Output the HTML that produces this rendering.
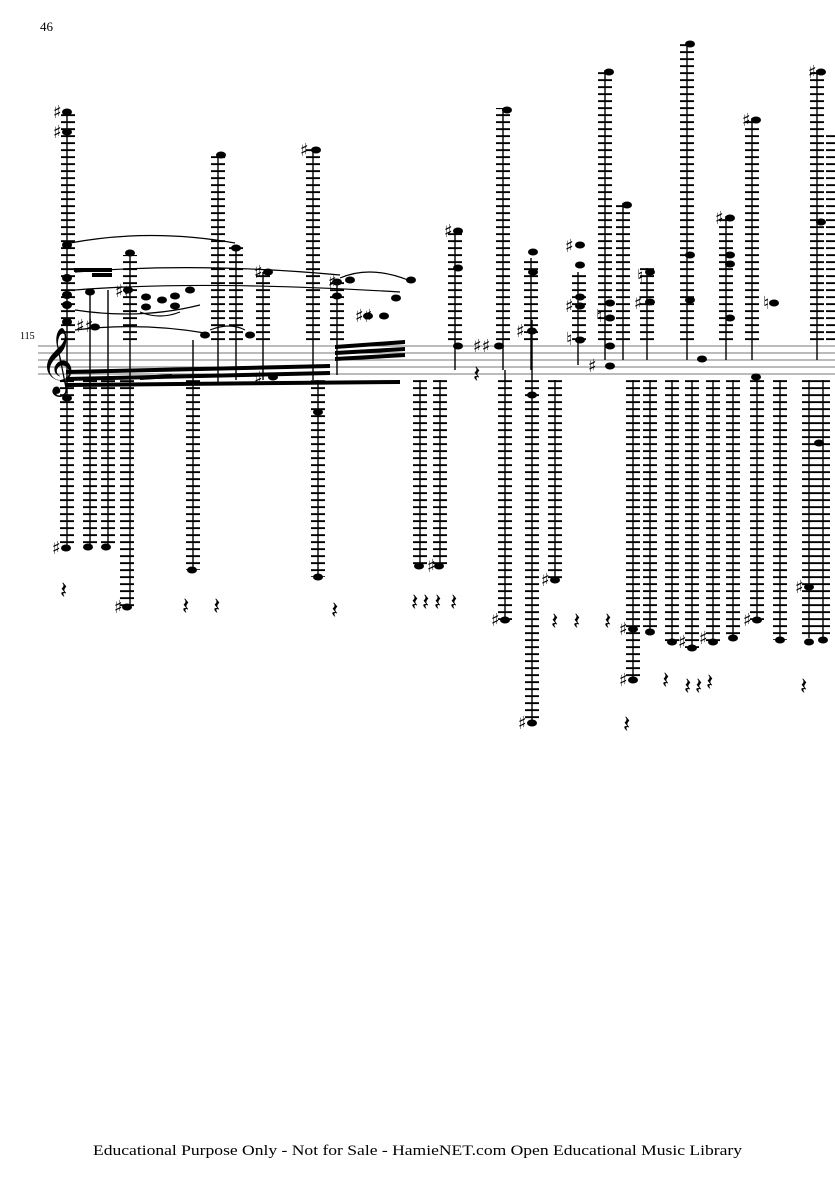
<!DOCTYPE html>
<html><head><meta charset="utf-8"><style>
html,body{margin:0;padding:0;background:#fff;}
body{width:835px;height:1181px;overflow:hidden;position:relative;font-family:"Liberation Serif",serif;}
</style></head><body>
<svg width="835" height="1181" viewBox="0 0 835 1181" xmlns="http://www.w3.org/2000/svg">
<defs>
<pattern id="L" patternUnits="userSpaceOnUse" x="0" y="0" width="20" height="7">
<rect x="0" y="2.2" width="20" height="1.9" fill="#000"/>
</pattern>
</defs>
<text x="40" y="31" font-size="13" font-family="Liberation Serif">46</text>
<text x="20" y="339" font-size="10" font-family="Liberation Serif">115</text>
<g stroke="#777" stroke-width="1">
<line x1="38" y1="346" x2="835" y2="346"/><line x1="38" y1="353" x2="835" y2="353"/>
<line x1="38" y1="360" x2="835" y2="360"/><line x1="38" y1="367" x2="835" y2="367"/>
<line x1="38" y1="374" x2="835" y2="374"/>
</g>
<text x="40" y="380" font-size="58" font-family="DejaVu Sans">𝄞</text>
<g fill="url(#L)">
<rect x="61" y="112" width="14" height="230"/>
<rect x="123" y="255" width="14" height="87"/>
<rect x="211" y="153" width="14" height="189"/>
<rect x="229" y="245" width="14" height="97"/>
<rect x="256" y="272" width="14" height="70"/>
<rect x="306" y="148" width="14" height="194"/>
<rect x="330" y="282" width="14" height="60"/>
<rect x="448" y="230" width="14" height="112"/>
<rect x="496" y="108" width="14" height="234"/>
<rect x="524" y="258" width="14" height="84"/>
<rect x="572" y="272" width="14" height="70"/>
<rect x="598" y="70" width="14" height="272"/>
<rect x="616" y="203" width="14" height="139"/>
<rect x="640" y="268" width="14" height="74"/>
<rect x="680" y="42" width="14" height="300"/>
<rect x="719" y="216" width="14" height="126"/>
<rect x="745" y="118" width="14" height="224"/>
<rect x="810" y="70" width="14" height="272"/>
<rect x="826" y="135" width="14" height="207"/>
<rect x="60" y="378" width="14" height="170"/>
<rect x="83" y="378" width="14" height="169"/>
<rect x="101" y="378" width="14" height="169"/>
<rect x="120" y="378" width="14" height="229"/>
<rect x="186" y="378" width="14" height="192"/>
<rect x="311" y="378" width="14" height="199"/>
<rect x="413" y="378" width="14" height="188"/>
<rect x="433" y="378" width="14" height="188"/>
<rect x="498" y="378" width="14" height="242"/>
<rect x="525" y="378" width="14" height="345"/>
<rect x="548" y="378" width="14" height="202"/>
<rect x="626" y="378" width="14" height="302"/>
<rect x="643" y="378" width="14" height="254"/>
<rect x="665" y="378" width="14" height="264"/>
<rect x="685" y="378" width="14" height="270"/>
<rect x="706" y="378" width="14" height="264"/>
<rect x="726" y="378" width="14" height="260"/>
<rect x="750" y="378" width="14" height="242"/>
<rect x="773" y="378" width="14" height="262"/>
<rect x="802" y="378" width="14" height="260"/>
<rect x="816" y="378" width="14" height="260"/>
</g>
<g stroke="#000" stroke-width="1.4">
<line x1="67" y1="112" x2="67" y2="548"/><line x1="90" y1="290" x2="90" y2="547"/>
<line x1="108" y1="290" x2="108" y2="547"/><line x1="130" y1="255" x2="130" y2="607"/>
<line x1="193" y1="340" x2="193" y2="570"/><line x1="218" y1="153" x2="218" y2="385"/>
<line x1="236" y1="245" x2="236" y2="380"/><line x1="263" y1="272" x2="263" y2="380"/>
<line x1="313" y1="148" x2="313" y2="380"/><line x1="318" y1="380" x2="318" y2="577"/>
<line x1="337" y1="282" x2="337" y2="375"/>
<line x1="420" y1="380" x2="420" y2="566"/><line x1="440" y1="380" x2="440" y2="566"/>
<line x1="455" y1="230" x2="455" y2="370"/><line x1="503" y1="108" x2="503" y2="370"/>
<line x1="505" y1="370" x2="505" y2="620"/><line x1="531" y1="258" x2="531" y2="370"/>
<line x1="532" y1="320" x2="532" y2="723"/><line x1="555" y1="380" x2="555" y2="580"/>
<line x1="578" y1="272" x2="578" y2="365"/><line x1="605" y1="70" x2="605" y2="360"/>
<line x1="623" y1="203" x2="623" y2="360"/><line x1="633" y1="380" x2="633" y2="680"/>
<line x1="647" y1="268" x2="647" y2="360"/><line x1="650" y1="380" x2="650" y2="632"/>
<line x1="672" y1="380" x2="672" y2="642"/><line x1="687" y1="42" x2="687" y2="360"/>
<line x1="692" y1="380" x2="692" y2="648"/><line x1="713" y1="380" x2="713" y2="642"/>
<line x1="726" y1="216" x2="726" y2="360"/><line x1="733" y1="380" x2="733" y2="638"/>
<line x1="752" y1="118" x2="752" y2="360"/><line x1="757" y1="380" x2="757" y2="620"/>
<line x1="780" y1="380" x2="780" y2="640"/><line x1="809" y1="380" x2="809" y2="638"/>
<line x1="817" y1="70" x2="817" y2="360"/><line x1="823" y1="380" x2="823" y2="638"/>
</g>
<g fill="#000">
<polygon points="66,370 330,364 330,368 66,374"/>
<polygon points="66,377 330,371 330,375 66,381"/>
<polygon points="66,383 400,380 400,384 66,387"/>
<polygon points="140,376 172,374 172,378 140,380"/>
<polygon points="335,345 405,340 405,344 335,349"/>
<polygon points="335,351 405,347 405,351 335,355"/>
<polygon points="335,357 405,353 405,357 335,361"/>
<polygon points="74,268 112,268 112,272 74,272"/>
<polygon points="92,273 112,273 112,277 92,277"/>
</g>
<g fill="#000">
<ellipse cx="67" cy="112" rx="5" ry="3.5"/><ellipse cx="67" cy="132" rx="5" ry="3.5"/>
<ellipse cx="67" cy="245" rx="5" ry="4"/><ellipse cx="67" cy="278" rx="5" ry="4"/>
<ellipse cx="67" cy="295" rx="5" ry="4"/><ellipse cx="67" cy="305" rx="5" ry="4"/>
<ellipse cx="67" cy="322" rx="5" ry="4"/><ellipse cx="67" cy="398" rx="5" ry="3.5"/>
<ellipse cx="90" cy="292" rx="5" ry="3.5"/><ellipse cx="95" cy="327" rx="5" ry="3.5"/>
<ellipse cx="130" cy="253" rx="5" ry="3.5"/><ellipse cx="128" cy="290" rx="5" ry="3.5"/>
<ellipse cx="146" cy="297" rx="5" ry="3.5"/><ellipse cx="146" cy="307" rx="5" ry="3.5"/>
<ellipse cx="162" cy="300" rx="5" ry="3.5"/><ellipse cx="175" cy="296" rx="5" ry="3.5"/>
<ellipse cx="175" cy="306" rx="5" ry="3.5"/><ellipse cx="190" cy="290" rx="5" ry="3.5"/>
<ellipse cx="205" cy="335" rx="5" ry="3.5"/><ellipse cx="221" cy="155" rx="5" ry="3.5"/>
<ellipse cx="236" cy="248" rx="5" ry="3.5"/><ellipse cx="250" cy="335" rx="5" ry="3.5"/>
<ellipse cx="268" cy="272" rx="5" ry="3.5"/><ellipse cx="273" cy="377" rx="5" ry="3.5"/>
<ellipse cx="316" cy="150" rx="5" ry="3.5"/><ellipse cx="337" cy="282" rx="5" ry="3.5"/>
<ellipse cx="337" cy="296" rx="5" ry="3.5"/><ellipse cx="350" cy="280" rx="5" ry="3.5"/>
<ellipse cx="368" cy="316" rx="5" ry="3.5"/><ellipse cx="384" cy="316" rx="5" ry="3.5"/>
<ellipse cx="396" cy="298" rx="5" ry="3.5"/><ellipse cx="411" cy="280" rx="5" ry="3.5"/>
<ellipse cx="318" cy="412" rx="5" ry="3.5"/>
<ellipse cx="458" cy="231" rx="5" ry="3.5"/><ellipse cx="458" cy="268" rx="5" ry="3.5"/>
<ellipse cx="458" cy="346" rx="5" ry="3.5"/><ellipse cx="499" cy="346" rx="5" ry="3.5"/>
<ellipse cx="507" cy="110" rx="5" ry="3.5"/><ellipse cx="533" cy="252" rx="5" ry="3.5"/>
<ellipse cx="533" cy="272" rx="5" ry="3.5"/><ellipse cx="532" cy="331" rx="5" ry="3.5"/>
<ellipse cx="532" cy="395" rx="5" ry="3.5"/>
<ellipse cx="580" cy="245" rx="5" ry="3.5"/><ellipse cx="580" cy="265" rx="5" ry="3.5"/>
<ellipse cx="580" cy="297" rx="5" ry="3.5"/><ellipse cx="580" cy="306" rx="5" ry="3.5"/>
<ellipse cx="580" cy="340" rx="5" ry="3.5"/>
<ellipse cx="609" cy="72" rx="5" ry="3.5"/><ellipse cx="610" cy="303" rx="5" ry="3.5"/>
<ellipse cx="610" cy="318" rx="5" ry="3.5"/><ellipse cx="610" cy="346" rx="5" ry="3.5"/>
<ellipse cx="610" cy="366" rx="5" ry="3.5"/>
<ellipse cx="627" cy="205" rx="5" ry="3.5"/><ellipse cx="650" cy="272" rx="5" ry="3.5"/>
<ellipse cx="650" cy="302" rx="5" ry="3.5"/>
<ellipse cx="690" cy="44" rx="5" ry="3.5"/><ellipse cx="690" cy="255" rx="5" ry="3.5"/>
<ellipse cx="690" cy="300" rx="5" ry="3.5"/><ellipse cx="702" cy="359" rx="5" ry="3.5"/>
<ellipse cx="730" cy="218" rx="5" ry="3.5"/><ellipse cx="730" cy="255" rx="5" ry="3.5"/>
<ellipse cx="730" cy="264" rx="5" ry="3.5"/><ellipse cx="730" cy="318" rx="5" ry="3.5"/>
<ellipse cx="756" cy="120" rx="5" ry="3.5"/><ellipse cx="756" cy="377" rx="5" ry="3.5"/>
<ellipse cx="774" cy="303" rx="5" ry="3.5"/>
<ellipse cx="821" cy="72" rx="5" ry="3.5"/><ellipse cx="821" cy="222" rx="5" ry="3.5"/>
<ellipse cx="819" cy="443" rx="5" ry="3.5"/>
<ellipse cx="66" cy="548" rx="5" ry="3.5"/><ellipse cx="88" cy="547" rx="5" ry="3.5"/>
<ellipse cx="106" cy="547" rx="5" ry="3.5"/><ellipse cx="127" cy="607" rx="5" ry="3.5"/>
<ellipse cx="192" cy="570" rx="5" ry="3.5"/><ellipse cx="318" cy="577" rx="5" ry="3.5"/>
<ellipse cx="419" cy="566" rx="5" ry="3.5"/><ellipse cx="439" cy="566" rx="5" ry="3.5"/>
<ellipse cx="505" cy="620" rx="5" ry="3.5"/><ellipse cx="532" cy="723" rx="5" ry="3.5"/>
<ellipse cx="555" cy="580" rx="5" ry="3.5"/><ellipse cx="633" cy="629" rx="5" ry="3.5"/>
<ellipse cx="633" cy="680" rx="5" ry="3.5"/><ellipse cx="650" cy="632" rx="5" ry="3.5"/>
<ellipse cx="672" cy="642" rx="5" ry="3.5"/><ellipse cx="692" cy="648" rx="5" ry="3.5"/>
<ellipse cx="713" cy="642" rx="5" ry="3.5"/><ellipse cx="733" cy="638" rx="5" ry="3.5"/>
<ellipse cx="757" cy="620" rx="5" ry="3.5"/><ellipse cx="780" cy="640" rx="5" ry="3.5"/>
<ellipse cx="809" cy="587" rx="5" ry="3.5"/><ellipse cx="809" cy="642" rx="5" ry="3.5"/>
<ellipse cx="823" cy="640" rx="5" ry="3.5"/>
</g>
<g fill="none" stroke="#000" stroke-width="1.2">
<path d="M70,243 Q150,228 235,243"/>
<path d="M75,272 Q200,262 340,275"/>
<path d="M75,290 Q200,280 400,292"/>
<path d="M75,310 Q140,320 200,305"/>
<path d="M75,330 Q140,322 205,333"/>
<path d="M140,312 Q160,320 180,312"/>
<path d="M210,330 Q230,322 245,330"/>
<path d="M340,278 Q370,265 408,280"/>
</g>
<g font-family="DejaVu Sans" font-size="18" font-weight="bold" fill="#000">
<text x="53" y="118">♯</text><text x="53" y="138">♯</text><text x="76" y="332">♯♯</text>
<text x="115" y="297">♯♯</text><text x="300" y="156">♯</text><text x="254" y="278">♯</text>
<text x="328" y="288">♯</text><text x="355" y="322">♯♯</text><text x="254" y="384">♯</text>
<text x="444" y="237">♯</text><text x="473" y="352">♯♯</text><text x="516" y="337">♯</text>
<text x="565" y="252">♯</text><text x="565" y="312">♯</text><text x="566" y="345">♮</text>
<text x="588" y="372">♯</text><text x="596" y="322">♮</text><text x="637" y="282">♮</text>
<text x="634" y="309">♯</text><text x="715" y="224">♯</text><text x="742" y="126">♯</text>
<text x="763" y="309">♮</text><text x="808" y="78">♯</text>
<text x="52" y="554">♯</text><text x="114" y="613">♯</text><text x="491" y="626">♯</text>
<text x="518" y="729">♯</text><text x="541" y="586">♯</text><text x="619" y="635">♯</text>
<text x="619" y="686">♯</text><text x="678" y="648">♯</text><text x="699" y="644">♯</text>
<text x="743" y="626">♯</text><text x="795" y="593">♯</text><text x="427" y="572">♯</text>
</g>
<g font-family="DejaVu Sans" font-size="24" fill="#000">
<text x="60" y="598">𝄽</text><text x="182" y="614">𝄽</text><text x="213" y="614">𝄽</text>
<text x="331" y="618">𝄽</text><text x="411" y="610">𝄽</text><text x="422" y="610">𝄽</text>
<text x="434" y="610">𝄽</text><text x="450" y="610">𝄽</text><text x="551" y="629">𝄽</text>
<text x="573" y="629">𝄽</text><text x="604" y="629">𝄽</text><text x="662" y="688">𝄽</text>
<text x="684" y="694">𝄽</text><text x="695" y="694">𝄽</text><text x="706" y="690">𝄽</text>
<text x="800" y="694">𝄽</text><text x="623" y="732">𝄽</text><text x="473" y="382">𝄽</text>
</g>
<text x="93" y="1155" font-size="15" textLength="649" lengthAdjust="spacingAndGlyphs" font-family="Liberation Serif">Educational Purpose Only - Not for Sale - HamieNET.com Open Educational Music Library</text>
</svg>
</body></html>
